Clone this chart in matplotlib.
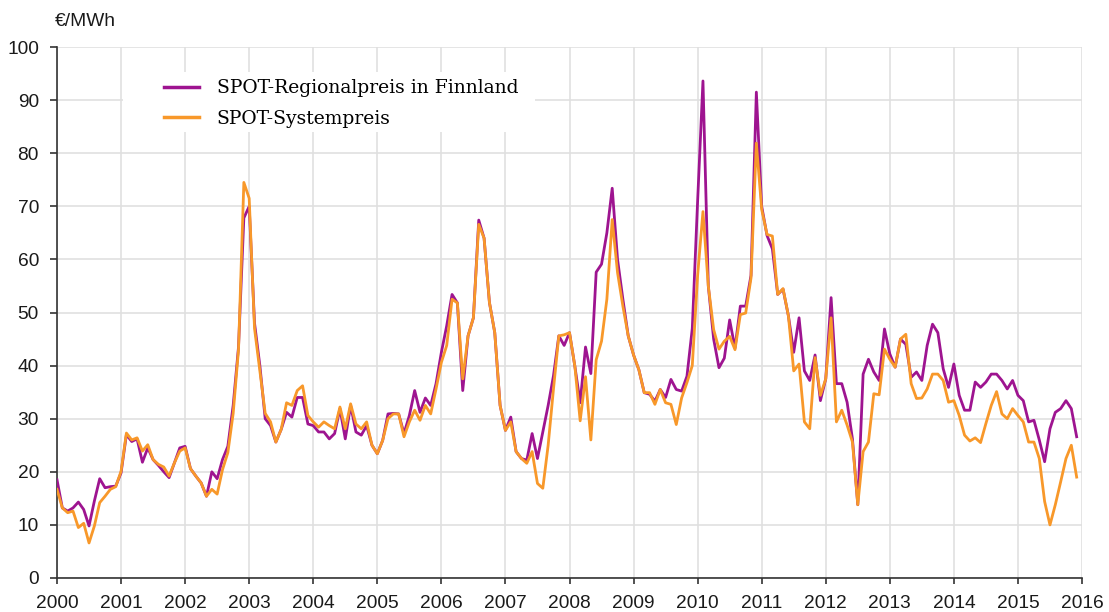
import numpy as np
import matplotlib
matplotlib.use("Agg")
import matplotlib.pyplot as plt
from matplotlib.patches import Rectangle

# monthly averages, one row per year 2000..2015 (EUR/MWh)
finland = [
    18.5, 13.2, 12.6, 13.2, 14.3, 12.9, 9.8, 14.5, 18.7, 17.0, 17.2, 17.3,
    19.8, 27.0, 25.7, 26.2, 21.8, 24.5, 22.3, 21.2, 20.0, 18.9, 21.7, 24.5,
    24.8, 20.6, 19.2, 17.9, 15.4, 20.0, 18.7, 22.3, 24.8, 32.5, 43.5, 67.8,
    70.0, 48.0, 40.0, 30.0, 28.7, 25.6, 28.0, 31.2, 30.3, 34.0, 34.0, 29.0,
    28.7, 27.5, 27.5, 26.2, 27.2, 31.9, 26.2, 32.5, 27.5, 26.9, 28.7, 25.0,
    23.4, 25.9, 30.9, 31.0, 30.9, 27.2, 30.6, 35.3, 31.2, 33.9, 32.5, 36.6,
    42.5, 47.5, 53.4, 51.8, 35.3, 45.6, 49.0, 67.4, 64.0, 51.9, 46.2, 32.5,
    27.8, 30.3, 23.8, 22.5, 22.2, 27.2, 22.5, 27.5, 32.5, 38.1, 45.6, 43.8,
    46.2, 39.9, 33.0, 43.5, 38.5, 57.6, 59.1, 65.0, 73.4, 60.0, 52.5, 45.6,
    42.0, 39.2, 34.9, 34.6, 33.3, 35.5, 34.0, 37.4, 35.5, 35.2, 38.0, 47.0,
    71.0, 93.6, 55.0, 45.0, 39.6, 41.4, 48.6, 43.3, 51.2, 51.2, 57.0, 91.5,
    70.0, 64.5, 62.0, 53.4, 54.4, 49.4, 42.5, 49.0, 39.0, 37.2, 42.0, 33.4,
    37.5, 52.8, 36.6, 36.6, 33.1, 26.2, 13.8, 38.4, 41.2, 38.8, 37.2, 46.9,
    42.2, 39.7, 45.0, 44.0, 37.8, 38.8, 37.2, 43.8, 47.8, 46.2, 39.4, 35.9,
    40.3, 34.4, 31.6, 31.6, 36.9, 35.9, 36.9, 38.4, 38.4, 37.2, 35.6, 37.2,
    34.4, 33.4, 29.4, 29.7, 26.0, 21.9, 28.1, 31.2, 31.9, 33.4, 31.9, 26.6,
]
system = [
    16.7, 13.2, 12.3, 12.6, 9.5, 10.3, 6.6, 9.8, 14.2, 15.4, 16.7, 17.2,
    20.1, 27.3, 26.0, 26.4, 23.9, 25.1, 22.3, 21.4, 20.9, 19.2, 21.7, 23.9,
    24.5, 20.6, 19.2, 17.9, 15.4, 16.7, 15.8, 20.4, 23.6, 31.0, 43.0, 74.5,
    71.5, 47.0, 39.0, 31.0, 29.4, 25.6, 28.0, 33.0, 32.5, 35.3, 36.2, 30.6,
    29.4, 28.4, 29.4, 28.7, 28.1, 32.2, 28.1, 32.8, 29.0, 28.1, 29.4, 25.0,
    23.4, 25.9, 30.0, 30.9, 30.9, 26.6, 29.4, 31.6, 29.7, 32.5, 30.9, 35.6,
    40.6, 43.8, 52.5, 51.8, 37.5, 45.6, 49.0, 66.6, 64.0, 51.9, 46.2, 32.5,
    27.8, 29.4, 23.8, 22.5, 21.6, 23.8, 17.8, 16.9, 25.0, 35.6, 45.6, 45.8,
    46.2, 39.9, 29.6, 37.9, 26.0, 41.1, 44.6, 52.5, 67.5, 57.5, 51.2, 45.6,
    42.0, 39.2, 34.9, 34.9, 32.7, 35.5, 33.0, 32.7, 28.9, 33.9, 36.8, 40.0,
    57.0, 69.0, 55.0, 46.8, 43.1, 44.6, 45.5, 43.0, 49.6, 49.9, 56.5, 81.9,
    69.4, 64.7, 64.4, 53.4, 54.5, 49.4, 39.0, 40.3, 29.4, 28.1, 41.5, 34.4,
    37.5, 49.0, 29.4, 31.6, 28.8, 25.6, 13.8, 23.8, 25.6, 34.7, 34.5, 43.1,
    41.2, 39.7, 45.0, 45.9, 36.6, 33.8, 33.9, 35.6, 38.4, 38.4, 37.2, 33.1,
    33.4, 30.6, 26.9, 25.8, 26.4, 25.5, 29.1, 32.5, 35.1, 30.9, 30.0, 31.9,
    30.6, 29.4, 25.6, 25.6, 22.5, 14.4, 10.0, 13.8, 18.1, 22.5, 25.0, 19.0,
]
years = list(range(2000, 2017))
y_ticks = list(range(0, 101, 10))
labels = ["SPOT-Regionalpreis in Finnland", "SPOT-Systempreis"]
unit = "€/MWh"

purple = "#9e1490"
orange = "#f8982a"

t = 2000 + np.arange(len(finland)) / 12.0

W, H = 1109, 612
fig = plt.figure(figsize=(W / 100, H / 100), dpi=100)
ax = fig.add_axes([57 / W, 1 - 578 / H, (1082 - 57) / W, (578 - 47) / H])

ax.plot(t, finland, color=purple, lw=2.0, label=labels[0], zorder=3)
ax.plot(t, system, color=orange, lw=2.0, label=labels[1], zorder=4)

ax.set_xlim(2000, 2016)
ax.set_ylim(0, 100)
ax.set_xticks(years)
ax.set_yticks(y_ticks)
ax.grid(True, color="#e0e0e0", lw=1.2)
ax.set_axisbelow(True)

for s in ["top", "right"]:
    ax.spines[s].set_visible(False)
for s in ["left", "bottom"]:
    ax.spines[s].set_color("#333333")
    ax.spines[s].set_linewidth(1.2)

tick_font = {"family": "Liberation Sans", "size": 13.8}
ax.set_xticklabels([str(y) for y in years], fontdict=tick_font, color="#1a1a1a")
ax.set_yticklabels([str(v) for v in y_ticks], fontdict=tick_font, color="#1a1a1a")
ax.tick_params(axis="x", length=4, width=1.2, color="#333333", pad=8)
ax.tick_params(axis="y", length=5, width=1.2, color="#333333", pad=8)

fig.text(55 / W, 1 - 22 / H, unit, ha="left", va="center",
         family="Liberation Sans", size=13.8, color="#1a1a1a")

# white box behind the legend hides the grid
ax.add_patch(Rectangle((123 / W, 1 - 132 / H), (535 - 123) / W, 60 / H,
                       transform=fig.transFigure, facecolor="white",
                       edgecolor="none", zorder=1))

leg = ax.legend(loc="upper left", bbox_to_anchor=(155 / W, 1 - 70 / H),
                bbox_transform=fig.transFigure, frameon=False, borderpad=0,
                handlelength=1.85, handletextpad=0.95, labelspacing=0.65,
                prop={"family": "DejaVu Serif", "size": 13.5})
for line in leg.get_lines():
    line.set_linewidth(2.5)

fig.savefig("out.png", dpi=100)
